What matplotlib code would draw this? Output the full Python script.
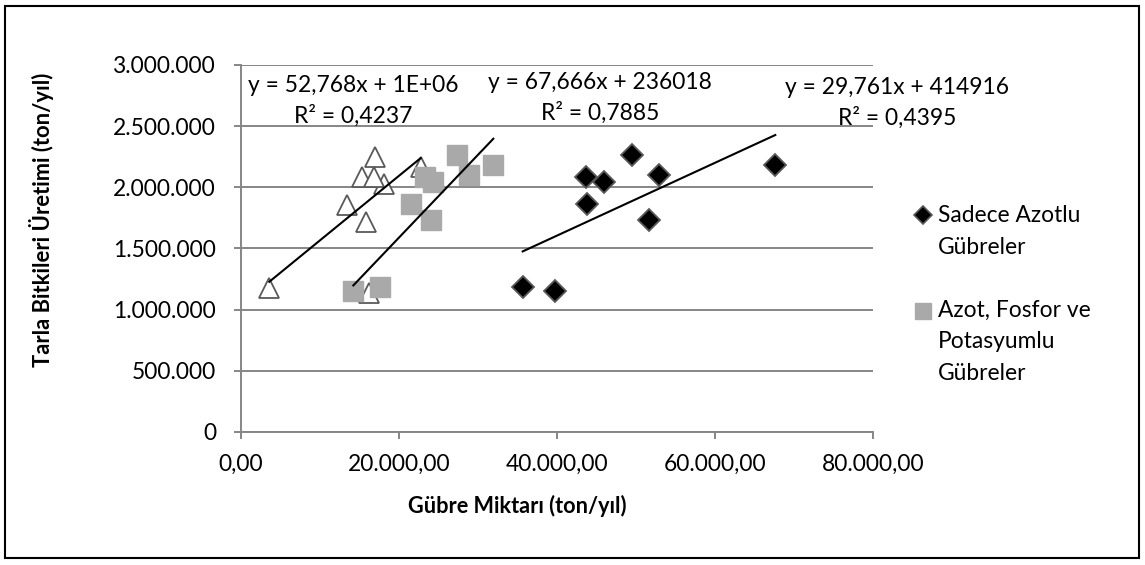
#!/usr/bin/env python3

import numpy as np
import matplotlib
matplotlib.use('Agg')
import matplotlib.pyplot as plt
from matplotlib.ticker import FuncFormatter, MultipleLocator
from matplotlib.lines import Line2D
from matplotlib.patches import Rectangle

plt.rcParams['font.family'] = ['Lato', 'DejaVu Sans']

# production (ton/yil)
sadece_x = [35660, 39700, 43670, 45950, 43760, 49450, 52950, 51600, 67630]
sadece_y = [1188000, 1153000, 2088000, 2040000, 1864000, 2265000, 2101000, 1733000, 2180000]

afp_x = [17600, 14220, 23290, 24340, 21560, 27300, 28820, 24050, 31940]
afp_y = [1183000, 1150000, 2088000, 2040000, 1864000, 2265000, 2098000, 1733000, 2180000]

ucgen_x = [3580, 16250, 15360, 18100, 13460, 16960, 16840, 15860, 22740]
ucgen_y = [1175000, 1140000, 2088000, 2028000, 1856000, 2248000, 2083000, 1720000, 2170000]

# trend lines (slope, intercept) as shown on the chart
trend_ucgen = (52.768, 1039000)
trend_afp = (67.666, 236018)
trend_sadece = (29.761, 414916)

eq_labels = ['y = 52,768x + 1E+06\nR² = 0,4237',
             'y = 67,666x + 236018\nR² = 0,7885',
             'y = 29,761x + 414916\nR² = 0,4395']

W, H = 1145, 565
fig = plt.figure(figsize=(W/100, H/100), dpi=100)
ax = fig.add_axes([241/W, 1-432/H, (873-241)/W, (432-65)/H])

grid_col = '#868686'
ax.set_xlim(0, 80000)
ax.set_ylim(0, 3000000)
ax.yaxis.set_major_locator(MultipleLocator(500000))
ax.xaxis.set_major_locator(MultipleLocator(20000))
ax.grid(axis='y', color=grid_col, linewidth=1.4)
ax.set_axisbelow(True)
for s in ['top', 'right']:
    ax.spines[s].set_visible(False)
for s in ['left', 'bottom']:
    ax.spines[s].set_color(grid_col)
    ax.spines[s].set_linewidth(1.4)

def fmt_y(v, pos):
    return '{:,.0f}'.format(v).replace(',', '.')

def fmt_x(v, pos):
    s = '{:,.2f}'.format(v)
    return s.replace(',', '#').replace('.', ',').replace('#', '.')

ax.yaxis.set_major_formatter(FuncFormatter(fmt_y))
ax.xaxis.set_major_formatter(FuncFormatter(fmt_x))
ax.tick_params(axis='y', length=5, width=1.4, color=grid_col, pad=13, labelsize=16.4)
ax.tick_params(axis='x', length=5, width=1.4, color=grid_col, pad=11, labelsize=16.4)

ax.plot(ucgen_x, ucgen_y, linestyle='none', marker='^', ms=14.5,
        markerfacecolor='white', markeredgecolor='#595959', markeredgewidth=1.3, zorder=3)
ax.plot(afp_x, afp_y, linestyle='none', marker='s', ms=14,
        markerfacecolor='#A9A9A9', markeredgecolor='#A9A9A9', zorder=3)
ax.plot(sadece_x, sadece_y, linestyle='none', marker='D', ms=11,
        markerfacecolor='black', markeredgecolor='#595959', markeredgewidth=1.3, zorder=3)

for xs, (m, b) in [(ucgen_x, trend_ucgen), (afp_x, trend_afp), (sadece_x, trend_sadece)]:
    xx = np.array([min(xs), max(xs)])
    ax.plot(xx, m*xx + b, color='black', linewidth=1.5, zorder=4)

# equation labels
for (px, py), lab in zip([(353, 101), (600, 98), (897, 103)], eq_labels):
    fig.text(px/W, 1-py/H, lab, ha='center', va='center', fontsize=16.4,
             linespacing=1.45, zorder=5)

# axis titles
fig.text(517/W, 1-506/H, 'Gübre Miktarı (ton/yıl)', ha='center', va='center',
         fontsize=15.6, fontweight='bold')
fig.text(42/W, 1-220/H, 'Tarla Bitkileri Üretimi (ton/yıl)', ha='center', va='center',
         fontsize=15.8, fontweight='bold', rotation=90)

# legend (two entries as in the original)
fig.add_artist(Line2D([923/W], [1-215/H], marker='D', ms=9, markerfacecolor='black',
                      markeredgecolor='#595959', markeredgewidth=1.2, transform=fig.transFigure))
fig.text(938/W, 1-231.5/H, 'Sadece Azotlu\nGübreler', ha='left', va='center',
         fontsize=16.4, linespacing=1.65)
fig.add_artist(Line2D([923/W], [1-311/H], marker='s', ms=12, markerfacecolor='#A9A9A9',
                      markeredgecolor='#A9A9A9', transform=fig.transFigure))
fig.text(938/W, 1-342/H, 'Azot, Fosfor ve\nPotasyumlu\nGübreler', ha='left', va='center',
         fontsize=16.4, linespacing=1.6)

# chart border
fig.add_artist(Rectangle((5/W, 7/H), (1139-5)/W, (561-9)/H, transform=fig.transFigure,
                         fill=False, edgecolor='black', linewidth=1.5))

fig.savefig('out.png', dpi=100)
